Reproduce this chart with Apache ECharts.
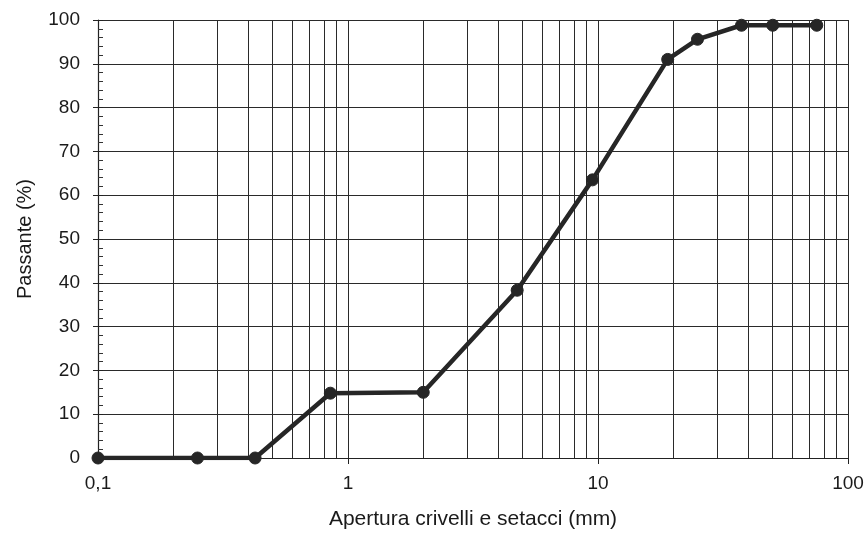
<!DOCTYPE html>
<html>
<head>
<meta charset="utf-8">
<script src="https://cdn.jsdelivr.net/npm/echarts@6/dist/echarts.min.js"></script>
<style>html,body{margin:0;padding:0;background:#fff;}#c{width:867px;height:535px;}</style>
</head>
<body>
<div id="c"></div>
<script>
// Sieve openings (mm) and percent passing
const apertures = [0.1, 0.25, 0.425, 0.85, 2, 4.75, 9.5, 19, 25, 37.5, 50, 75];
const passing = [0, 0, 0, 14.8, 15.0, 38.3, 63.5, 91.0, 95.6, 98.8, 98.8, 98.8];
// Minor logarithmic grid lines
const minorGridX = [0.2,0.3,0.4,0.5,0.6,0.7,0.8,0.9, 2,3,4,5,6,7,8,9, 20,30,40,50,60,70,80,90];

const chart = echarts.init(document.getElementById('c'), null, {renderer:'canvas'});
const font = 'Liberation Sans, Arial, sans-serif';
chart.setOption({
  animation: false,
  backgroundColor: '#ffffff',
  grid: {left: 98, right: 19, top: 20, bottom: 75, containLabel: false},
  xAxis: {
    type: 'log', logBase: 10, min: 0.1, max: 100,
    name: 'Apertura crivelli e setacci (mm)', nameLocation: 'middle', nameGap: 51,
    nameTextStyle: {fontFamily: font, fontSize: 21, color: '#1a1a1a'},
    axisLine: {show: true, lineStyle: {color: '#222', width: 1.2}},
    axisTick: {show: true, length: 6, lineStyle: {color: '#222'}},
    axisLabel: {fontFamily: font, fontSize: 19, color: '#1a1a1a', margin: 16,
      formatter: v => String(v).replace('.', ',')},
    splitLine: {show: true, lineStyle: {color: '#2a2a2a', width: 1}}
  },
  yAxis: [{
    type: 'value', min: 0, max: 100, interval: 10,
    name: 'Passante (%)', nameLocation: 'middle', nameGap: 63,
    nameTextStyle: {fontFamily: font, fontSize: 20, color: '#1a1a1a'},
    axisLine: {show: true, lineStyle: {color: '#222', width: 1.2}},
    axisTick: {show: true, inside: true, length: 5, lineStyle: {color: '#222'}},
    minorTick: {show: true, splitNumber: 5, length: 5, lineStyle: {color: '#333'}},
    axisLabel: {fontFamily: font, fontSize: 19, color: '#1a1a1a', margin: 18},
    splitLine: {show: true, lineStyle: {color: '#2a2a2a', width: 1}}
  }, {
    type: 'value', min: 0, max: 100, interval: 10, position: 'left',
    axisLine: {show: false},
    axisTick: {show: true, length: 5, lineStyle: {color: '#222'}},
    axisLabel: {show: false}, splitLine: {show: false}
  }],
  series: [{
    type: 'line', data: [], z: 1, silent: true,
    markLine: {
      silent: true, symbol: ['none','none'], animation: false,
      label: {show: false},
      lineStyle: {type: 'solid', color: '#2a2a2a', width: 1},
      emphasis: {disabled: true},
      data: minorGridX.map(v => ({xAxis: v}))
    }
  }, {
    type: 'line', z: 5,
    data: apertures.map((a, i) => [a, passing[i]]),
    lineStyle: {color: '#262626', width: 4.5},
    itemStyle: {color: '#262626', borderColor: '#262626'},
    symbol: 'circle', symbolSize: 12, showSymbol: true
  }]
});
</script>
</body>
</html>
